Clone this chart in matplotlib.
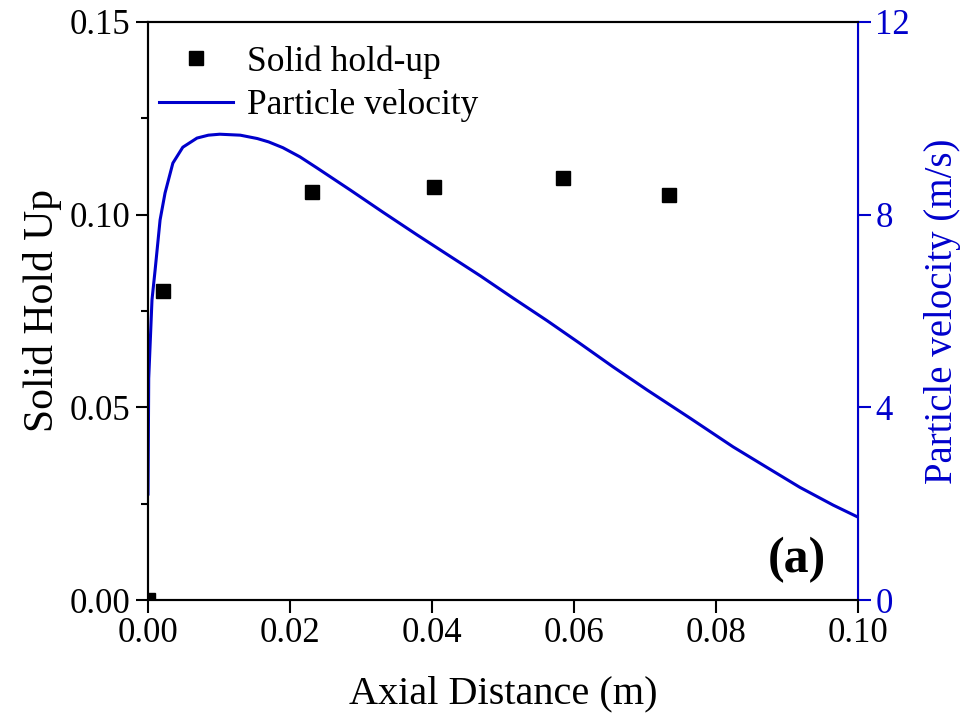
import matplotlib.pyplot as plt
from matplotlib.ticker import MultipleLocator

plt.rcParams['font.family'] = ['Liberation Serif', 'DejaVu Serif']

# solid hold-up (experimental points)
holdup_x = [0.0, 0.0021, 0.0231, 0.0403, 0.0585, 0.0734]
holdup_y = [0.0, 0.0802, 0.1059, 0.1072, 0.1095, 0.1051]

# particle velocity (m/s) along the axis
vel_x = [0.0, 0.0001, 0.00056, 0.001, 0.0017, 0.0024, 0.0035, 0.0049, 0.0069,
         0.0085, 0.0101, 0.013, 0.0154, 0.017, 0.019, 0.0214, 0.0238, 0.0285,
         0.0331, 0.0379, 0.0425, 0.0468, 0.0514, 0.0562, 0.0608, 0.0655,
         0.0703, 0.0763, 0.0824, 0.0872, 0.0918, 0.0965, 0.100]
vel_y = [2.2, 4.6, 6.23, 6.85, 7.89, 8.45, 9.07, 9.40, 9.59,
         9.65, 9.67, 9.65, 9.58, 9.51, 9.39, 9.20, 8.97, 8.51,
         8.05, 7.58, 7.14, 6.73, 6.27, 5.80, 5.33, 4.84,
         4.36, 3.78, 3.18, 2.75, 2.34, 1.97, 1.72]

blue = '#0000cc'

fig = plt.figure(figsize=(9.68, 7.23), dpi=100)
ax = fig.add_axes([0.1529, 0.1701, 0.7335, 0.7995])
ax2 = ax.twinx()

pts, = ax.plot(holdup_x, holdup_y, 's', color='black', markersize=10,
               label='Solid hold-up', zorder=3)
line, = ax2.plot(vel_x, vel_y, '-', color=blue, lw=2.2, label='Particle velocity')

ax.set_xlim(0, 0.10)
ax.set_ylim(0, 0.15)
ax2.set_ylim(0, 12)

ax.xaxis.set_major_locator(MultipleLocator(0.02))
ax.yaxis.set_major_locator(MultipleLocator(0.05))
ax.yaxis.set_minor_locator(MultipleLocator(0.025))
ax2.yaxis.set_major_locator(MultipleLocator(4))
ax.xaxis.set_major_formatter(plt.FormatStrFormatter('%.2f'))
ax.yaxis.set_major_formatter(plt.FormatStrFormatter('%.2f'))

ax.tick_params(axis='both', which='major', direction='out', length=9, width=1.5,
               labelsize=25, top=False, right=False)
ax.tick_params(axis='y', which='minor', direction='out', length=5, width=1.5)
ax2.tick_params(axis='y', which='major', direction='out', length=9, width=1.5,
                labelsize=25, colors=blue)

for s in ['left', 'bottom', 'top']:
    ax.spines[s].set_linewidth(1.5)
    ax2.spines[s].set_linewidth(1.5)
ax2.spines['right'].set_color(blue)
ax2.spines['right'].set_linewidth(1.5)

ax.set_xlabel('Axial Distance (m)', fontsize=29, labelpad=18)
ax.set_ylabel('Solid Hold Up', fontsize=30, labelpad=6)
ax2.set_ylabel('Particle velocity (m/s)', fontsize=28, color=blue, labelpad=10)

ax2.legend([pts, line], ['Solid hold-up', 'Particle velocity'], loc='upper left',
           bbox_to_anchor=(0.0, 0.978), frameon=False, fontsize=25.5,
           handlelength=2.1, borderaxespad=0, borderpad=0.3,
           labelspacing=0.3, handletextpad=0.4)

ax.text(0.955, 0.069, '(a)', transform=ax.transAxes, fontsize=36, fontweight='bold',
        ha='right', va='center')

fig.savefig('out.png', dpi=100)
